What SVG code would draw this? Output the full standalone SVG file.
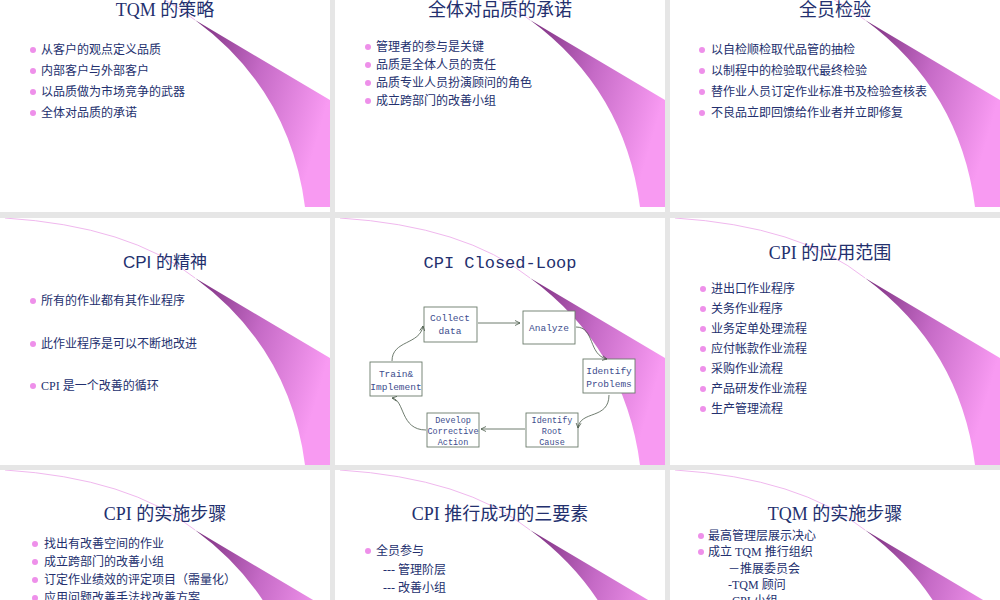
<svg xmlns="http://www.w3.org/2000/svg" width="1000" height="600" viewBox="0 0 1000 600">
<defs>
<linearGradient id="g" x1="0" y1="0" x2="1" y2="0.4"><stop offset="0" stop-color="#7a2f7e"/><stop offset="0.5" stop-color="#c56ac6"/><stop offset="1" stop-color="#f89af2"/></linearGradient>
<marker id="ar" markerWidth="6" markerHeight="6" refX="5" refY="3" orient="auto" markerUnits="userSpaceOnUse"><path d="M0,0.5 L5,3 L0,5.5" fill="none" stroke="#4a5a4a" stroke-width="0.8"/></marker>
<g id="sw"><path d="M5,0 Q130,8 195,60" fill="none" stroke="#f0b8ee" stroke-width="1"/><path d="M195,60 L330,140 L330,247 L305,247 Q290,130 195,60 Z" fill="url(#g)"/></g>
</defs>
<style>
.t{font-family:"Liberation Serif","Noto Sans CJK SC",serif;font-size:18px;fill:#23306e;text-anchor:middle}
.b{font-family:"Liberation Serif","Noto Sans CJK SC",serif;font-size:12px;fill:#23306e}
.d{fill:#ee90ea}
.bx{fill:#fff;stroke:#6b7b6b;stroke-width:0.9}
.bt{font-family:"Liberation Mono","DejaVu Sans Mono",monospace;font-size:9.5px;fill:#3d4d8d;text-anchor:middle}
.c{fill:none;stroke:#4a5a4a;stroke-width:0.8;marker-end:url(#ar)}
</style>
<rect width="1000" height="600" fill="#e6e6e6"/>
<g id="slides">
<rect x="0" y="0" width="330" height="212" fill="#fff"/>
<rect x="335" y="0" width="330" height="212" fill="#fff"/>
<rect x="670" y="0" width="330" height="212" fill="#fff"/>
<rect x="0" y="218" width="330" height="247" fill="#fff"/>
<rect x="335" y="218" width="330" height="247" fill="#fff"/>
<rect x="670" y="218" width="330" height="247" fill="#fff"/>
<rect x="0" y="470" width="330" height="130" fill="#fff"/>
<rect x="335" y="470" width="330" height="130" fill="#fff"/>
<rect x="670" y="470" width="330" height="130" fill="#fff"/>
<svg x="0" y="0" width="330" height="212"><use href="#sw" y="-40"/></svg>
<svg x="335" y="0" width="330" height="212"><use href="#sw" y="-40"/></svg>
<svg x="670" y="0" width="330" height="212"><use href="#sw" y="-40"/></svg>
<svg x="0" y="218" width="330" height="247"><use href="#sw"/></svg>
<svg x="335" y="218" width="330" height="247"><use href="#sw"/></svg>
<svg x="670" y="218" width="330" height="247"><use href="#sw"/></svg>
<svg x="0" y="470" width="330" height="130"><use href="#sw"/></svg>
<svg x="335" y="470" width="330" height="130"><use href="#sw"/></svg>
<svg x="670" y="470" width="330" height="130"><use href="#sw"/></svg>
</g>
<g id="s1"><text class="t" x="165" y="16">TQM 的策略</text>
<circle class="d" cx="33" cy="50" r="3"/><text class="b" x="41" y="54">从客户的观点定义品质</text>
<circle class="d" cx="33" cy="71" r="3"/><text class="b" x="41" y="75">内部客户与外部客户</text>
<circle class="d" cx="33" cy="92" r="3"/><text class="b" x="41" y="96">以品质做为市场竞争的武器</text>
<circle class="d" cx="33" cy="113" r="3"/><text class="b" x="41" y="117">全体对品质的承诺</text></g>
<g id="s2"><text class="t" x="500" y="16">全体对品质的承诺</text>
<circle class="d" cx="368" cy="47" r="3"/><text class="b" x="376" y="51">管理者的参与是关键</text>
<circle class="d" cx="368" cy="65" r="3"/><text class="b" x="376" y="69">品质是全体人员的责任</text>
<circle class="d" cx="368" cy="83" r="3"/><text class="b" x="376" y="87">品质专业人员扮演顾问的角色</text>
<circle class="d" cx="368" cy="101" r="3"/><text class="b" x="376" y="105">成立跨部门的改善小组</text></g>
<g id="s3"><text class="t" x="835" y="16">全员检验</text>
<circle class="d" cx="702" cy="50" r="3"/><text class="b" x="711" y="54">以自检顺检取代品管的抽检</text>
<circle class="d" cx="702" cy="71" r="3"/><text class="b" x="711" y="75">以制程中的检验取代最终检验</text>
<circle class="d" cx="702" cy="92" r="3"/><text class="b" x="711" y="96">替作业人员订定作业标准书及检验查核表</text>
<circle class="d" cx="702" cy="113" r="3"/><text class="b" x="711" y="117">不良品立即回馈给作业者并立即修复</text></g>
<g id="s4"><text class="t" x="165" y="268" style="font-family:'Liberation Sans','Noto Sans CJK SC',sans-serif;font-size:17px">CPI 的精神</text>
<circle class="d" cx="33" cy="301" r="3"/><text class="b" x="41" y="305">所有的作业都有其作业程序</text>
<circle class="d" cx="33" cy="344" r="3"/><text class="b" x="41" y="348">此作业程序是可以不断地改进</text>
<circle class="d" cx="33" cy="386" r="3"/><text class="b" x="41" y="390">CPI 是一个改善的循环</text></g>
<g id="s5"><text class="t" x="500" y="268" style="font-family:'Liberation Mono','Noto Sans CJK SC',monospace;font-size:17px">CPI Closed-Loop</text></g>
<g id="n1"><rect class="bx" x="424" y="307" width="53" height="35"/><text class="bt" x="450" y="321">Collect</text><text class="bt" x="450" y="334">data</text></g>
<g id="n2"><rect class="bx" x="523" y="311" width="52" height="33"/><text class="bt" x="549" y="331">Analyze</text></g>
<g id="n3"><rect class="bx" x="583" y="359" width="52" height="34"/><text class="bt" x="609" y="374">Identify</text><text class="bt" x="609" y="387">Problems</text></g>
<g id="n4"><rect class="bx" x="526" y="413" width="52" height="34"/><text class="bt" x="552" y="423" style="font-size:8.5px">Identify</text><text class="bt" x="552" y="434" style="font-size:8.5px">Root</text><text class="bt" x="552" y="445" style="font-size:8.5px">Cause</text></g>
<g id="n5"><rect class="bx" x="427" y="413" width="52" height="34"/><text class="bt" x="453" y="423" style="font-size:8.5px">Develop</text><text class="bt" x="453" y="434" style="font-size:8.5px">Corrective</text><text class="bt" x="453" y="445" style="font-size:8.5px">Action</text></g>
<g id="n6"><rect class="bx" x="370" y="362" width="52" height="34"/><text class="bt" x="396" y="377">Train&amp;</text><text class="bt" x="396" y="390">Implement</text></g>
<g id="connectors">
<path class="c" d="M478,323 L520,323"/>
<path class="c" d="M576,327 C595,327 588,355 607,359"/>
<path class="c" d="M609,395 C609,420 580,410 578,428"/>
<path class="c" d="M525,429 L481,429"/>
<path class="c" d="M426,430 C400,430 405,400 392,398"/>
<path class="c" d="M392,361 C392,340 420,345 423,326"/>
</g>
<g id="s6"><text class="t" x="830" y="259">CPI 的应用范围</text>
<circle class="d" cx="703" cy="289" r="3"/><text class="b" x="711" y="293">进出口作业程序</text>
<circle class="d" cx="703" cy="309" r="3"/><text class="b" x="711" y="313">关务作业程序</text>
<circle class="d" cx="703" cy="329" r="3"/><text class="b" x="711" y="333">业务定单处理流程</text>
<circle class="d" cx="703" cy="349" r="3"/><text class="b" x="711" y="353">应付帐款作业流程</text>
<circle class="d" cx="703" cy="369" r="3"/><text class="b" x="711" y="373">采购作业流程</text>
<circle class="d" cx="703" cy="389" r="3"/><text class="b" x="711" y="393">产品研发作业流程</text>
<circle class="d" cx="703" cy="409" r="3"/><text class="b" x="711" y="413">生产管理流程</text></g>
<g id="s7"><text class="t" x="165" y="520">CPI 的实施步骤</text>
<circle class="d" cx="35" cy="544" r="3"/><text class="b" x="44" y="548">找出有改善空间的作业</text>
<circle class="d" cx="35" cy="562" r="3"/><text class="b" x="44" y="566">成立跨部门的改善小组</text>
<circle class="d" cx="35" cy="580" r="3"/><text class="b" x="44" y="584">订定作业绩效的评定项目（需量化）</text>
<circle class="d" cx="35" cy="598" r="3"/><text class="b" x="44" y="602">应用问题改善手法找改善方案</text></g>
<g id="s8"><text class="t" x="500" y="520">CPI 推行成功的三要素</text>
<circle class="d" cx="368" cy="551" r="3"/><text class="b" x="376" y="555">全员参与</text>
<text class="b" x="383" y="574">--- 管理阶层</text>
<text class="b" x="383" y="592">--- 改善小组</text></g>
<g id="s9"><text class="t" x="835" y="520">TQM 的实施步骤</text>
<circle class="d" cx="701" cy="536" r="3"/><text class="b" x="708" y="540">最高管理层展示决心</text>
<circle class="d" cx="701" cy="552" r="3"/><text class="b" x="708" y="556">成立 TQM 推行组织</text>
<text class="b" x="728" y="573">－推展委员会</text>
<text class="b" x="728" y="589">-TQM 顾问</text>
<text class="b" x="728" y="605">-CPI 小组</text></g>
</svg>
